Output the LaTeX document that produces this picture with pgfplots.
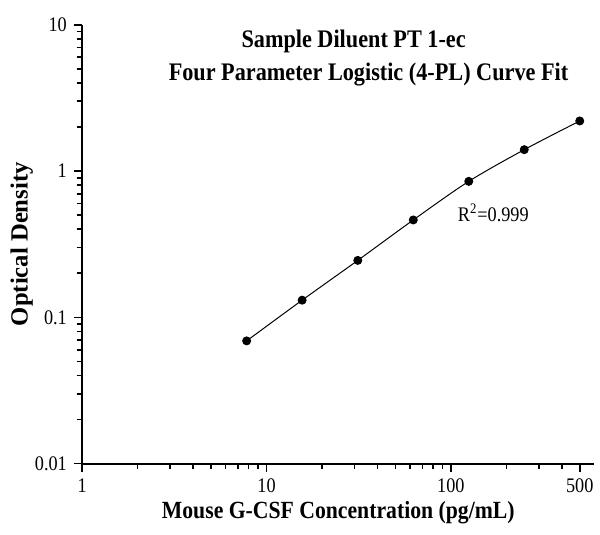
\documentclass[border=0pt]{standalone}
\usepackage{fontspec}
\setmainfont{Liberation Serif}[FakeStretch=0.88]
\newfontfamily\uprightlabel{Liberation Serif}
\usepackage{pgfplots}
\pgfplotsset{compat=1.18}

% standard curve, OD vs concentration
\pgfplotstableread{
conc   od
7.8    0.069
15.6   0.131
31.25  0.245
62.5   0.463
125    0.850
250    1.400
500    2.200
}\stdcurve

\begin{document}
\begin{tikzpicture}
  \begin{loglogaxis}[
    scale only axis,
    width=258.5bp, height=221.5bp,
    xmin=1, xmax=600, ymin=0.01, ymax=10,
    axis lines=left,
    axis line style={-, line width=1bp},
    tick align=outside,
    tick style={black, line width=0.8bp},
    xtick={1,10,100,500},
    minor xtick={2,3,4,5,6,7,8,9,20,30,40,50,60,70,80,90,200,300,400},
    ytick={0.01,0.1,1,10},
    minor ytick={0.02,0.03,0.04,0.05,0.06,0.07,0.08,0.09,0.2,0.3,0.4,0.5,0.6,0.7,0.8,0.9,2,3,4,5,6,7,8,9},
    xticklabels={1,10,100,500}, yticklabels={0.01,0.1,1,10},
    tick label style={font=\fontsize{10.5}{12}\selectfont},
    xlabel={Mouse G-CSF Concentration (pg/mL)},
    ylabel={\uprightlabel Optical Density},
    xlabel style={font=\fontsize{12.5}{14}\selectfont\bfseries, at={(axis description cs:0.5,-0.112)}, anchor=center},
    ylabel style={font=\fontsize{12.5}{14}\selectfont\bfseries, at={(axis description cs:-0.118,0.5)}, anchor=center},
  ]
    \addplot[black, line width=0.5bp, smooth, mark=*, mark size=2bp,
      mark options={fill=black}] table[x=conc, y=od] {\stdcurve};
  \end{loglogaxis}
  \node[font=\fontsize{12.8}{14}\selectfont\bfseries] at (137bp,213bp) {Sample Diluent PT 1-ec};
  \node[font=\fontsize{12.8}{14}\selectfont\bfseries] at (144.5bp,196.5bp) {Four Parameter Logistic (4-PL) Curve Fit};
  \node[font=\fontsize{10.5}{12}\selectfont] at (207.5bp,126.5bp) {R\textsuperscript{2}=0.999};
  \path (-41.5bp,-36bp) (258.5bp,234bp);
\end{tikzpicture}
\end{document}
